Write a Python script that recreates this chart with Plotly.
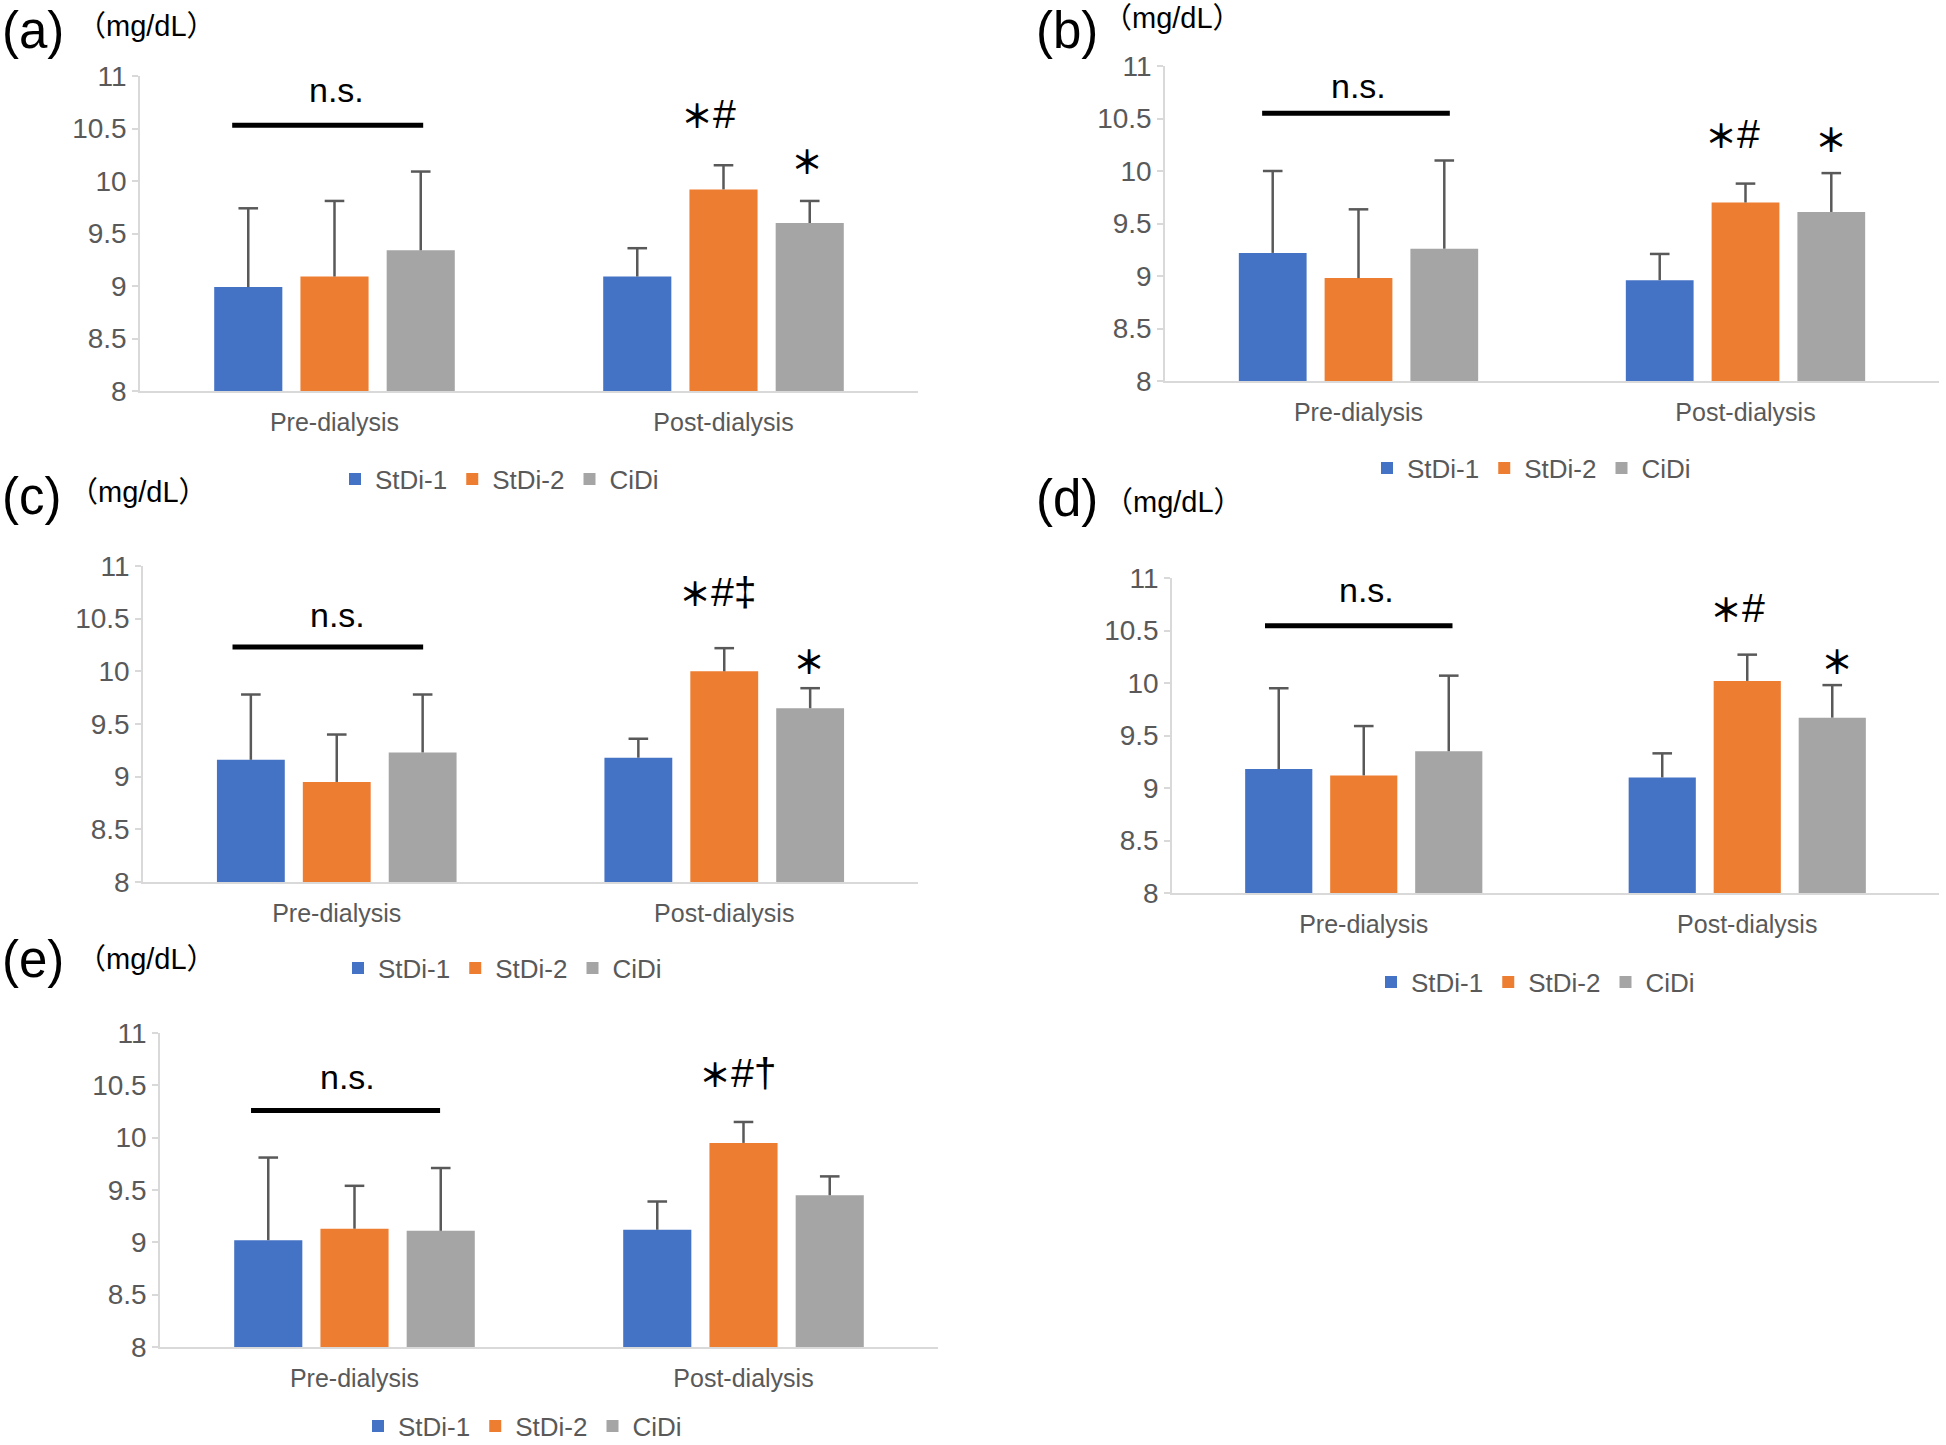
import plotly.graph_objects as go

W, H = 1946, 1445
FONT = "Liberation Sans, Arial, Noto Sans CJK JP, sans-serif"
TXT_GRAY = "#595959"
AXIS_GRAY = "#D9D9D9"
ERR_GRAY = "#595959"

# ---------------- data ----------------
categories = ["Pre-dialysis", "Post-dialysis"]
series_names = ["StDi-1", "StDi-2", "CiDi"]
series_colors = ["#4472C4", "#ED7D31", "#A5A5A5"]
y_tickvals = [8, 8.5, 9, 9.5, 10, 10.5, 11]
y_ticktext = ["8", "8.5", "9", "9.5", "10", "10.5", "11"]
panel_labels = ["(a)", "(b)", "(c)", "(d)", "(e)"]
unit_label = "（mg/dL）"
ns_label = "n.s."

# (a)
a_stdi1 = [8.99, 9.09]
a_stdi1_sd = [0.75, 0.27]
a_stdi2 = [9.09, 9.92]
a_stdi2_sd = [0.72, 0.23]
a_cidi = [9.34, 9.60]
a_cidi_sd = [0.75, 0.21]
a_marks = ["＊#", "＊"]

# (b)
b_stdi1 = [9.22, 8.96]
b_stdi1_sd = [0.78, 0.25]
b_stdi2 = [8.98, 9.70]
b_stdi2_sd = [0.655, 0.18]
b_cidi = [9.26, 9.61]
b_cidi_sd = [0.84, 0.37]
b_marks = ["＊#", "＊"]

# (c)
c_stdi1 = [9.16, 9.18]
c_stdi1_sd = [0.62, 0.18]
c_stdi2 = [8.95, 10.00]
c_stdi2_sd = [0.45, 0.22]
c_cidi = [9.23, 9.65]
c_cidi_sd = [0.55, 0.19]
c_marks = ["＊#‡", "＊"]

# (d)
d_stdi1 = [9.18, 9.10]
d_stdi1_sd = [0.77, 0.23]
d_stdi2 = [9.12, 10.02]
d_stdi2_sd = [0.47, 0.25]
d_cidi = [9.35, 9.67]
d_cidi_sd = [0.72, 0.31]
d_marks = ["＊#", "＊"]

# (e)
e_stdi1 = [9.02, 9.12]
e_stdi1_sd = [0.79, 0.27]
e_stdi2 = [9.13, 9.95]
e_stdi2_sd = [0.41, 0.20]
e_cidi = [9.11, 9.45]
e_cidi_sd = [0.60, 0.18]
e_marks = ["＊#†", ""]

# ---------------- layout geometry (pixels) ----------------
# lab = (left, top) of the panel letter box
panels = [
    dict(means=[a_stdi1, a_stdi2, a_cidi], sds=[a_stdi1_sd, a_stdi2_sd, a_cidi_sd], marks=a_marks,
         x0=140, x1=918, ytop=76, ybot=391, lab=(0, 0), unit=(146.5, 26), leg=(335, 479),
         nsl=(-0.263, 0.228, 10.53), nst=(0.006, 10.87), pm=(0.885, 10.64), cm=(1.215, 10.2)),
    dict(means=[b_stdi1, b_stdi2, b_cidi], sds=[b_stdi1_sd, b_stdi2_sd, b_cidi_sd], marks=b_marks,
         x0=1165, x1=1939, ytop=66, ybot=381, lab=(1034, 0), unit=(1172.5, 18), leg=(1367, 468),
         nsl=(-0.249, 0.236, 10.55), nst=(0.0, 10.81), pm=(0.889, 10.35), cm=(1.222, 10.31)),
    dict(means=[c_stdi1, c_stdi2, c_cidi], sds=[c_stdi1_sd, c_stdi2_sd, c_cidi_sd], marks=c_marks,
         x0=143, x1=918, ytop=566, ybot=882, lab=(0, 466), unit=(138.5, 491.5), leg=(338, 968),
         nsl=(-0.269, 0.223, 10.23), nst=(0.003, 10.535), pm=(0.878, 10.75), cm=(1.218, 10.11)),
    dict(means=[d_stdi1, d_stdi2, d_cidi], sds=[d_stdi1_sd, d_stdi2_sd, d_cidi_sd], marks=d_marks,
         x0=1172, x1=1939, ytop=578, ybot=893, lab=(1034, 468), unit=(1173, 502), leg=(1371, 982),
         nsl=(-0.2575, 0.2314, 10.545), nst=(0.007, 10.89), pm=(0.898, 10.71), cm=(1.235, 10.22)),
    dict(means=[e_stdi1, e_stdi2, e_cidi], sds=[e_stdi1_sd, e_stdi2_sd, e_cidi_sd], marks=e_marks,
         x0=160, x1=938, ytop=1033, ybot=1347, lab=(0, 929), unit=(146, 959), leg=(358, 1426),
         nsl=(-0.266, 0.22, 10.26), nst=(-0.017, 10.58), pm=(0.880, 10.62), cm=(1.222, 10.2)),
]

STAR_SPAN = '<span style="font-family:Noto Sans CJK JP;font-weight:bold;font-size:32px">＊</span>'


def styled(mark):
    return mark.replace("＊", STAR_SPAN)


def px(x):
    return x / W


def py(y):
    return 1 - y / H


fig = go.Figure()
annotations = []
shapes = []
layout_axes = {}

for i, p in enumerate(panels, start=1):
    sfx = "" if i == 1 else str(i)
    xa, ya = "x" + sfx, "y" + sfx
    legname = "legend" + sfx
    for j in range(3):
        fig.add_trace(go.Bar(
            x=categories, y=p["means"][j], name=series_names[j],
            marker=dict(color=series_colors[j], line=dict(width=0)),
            error_y=dict(type="data", symmetric=False, array=p["sds"][j],
                         arrayminus=[0] * len(categories), width=0,
                         thickness=2.5, color=ERR_GRAY),
            xaxis=xa, yaxis=ya, legend=legname, showlegend=True,
            hoverinfo="skip",
        ))
    for j in range(3):
        tops = [m + s for m, s in zip(p["means"][j], p["sds"][j])]
        fig.add_trace(go.Scatter(
            x=categories, y=tops, mode="markers",
            marker=dict(symbol="line-ew", size=14, color=ERR_GRAY,
                        line=dict(width=2.5, color=ERR_GRAY)),
            xaxis=xa, yaxis=ya, showlegend=False, hoverinfo="skip",
        ))

    layout_axes["xaxis" + sfx] = dict(
        domain=[px(p["x0"]), px(p["x1"])], anchor=ya, type="category",
        categoryorder="array", categoryarray=categories, range=[-0.5, 1.5],
        showline=True, linecolor=AXIS_GRAY, linewidth=2, ticks="",
        showgrid=False, zeroline=False, fixedrange=True, automargin=False,
        ticklabelstandoff=8,
        tickfont=dict(family=FONT, size=25, color=TXT_GRAY),
    )
    layout_axes["yaxis" + sfx] = dict(
        domain=[py(p["ybot"]), py(p["ytop"])], anchor=xa, range=[8, 11],
        tickmode="array", tickvals=y_tickvals, ticktext=y_ticktext,
        showline=True, linecolor=AXIS_GRAY, linewidth=1.5,
        ticks="outside", ticklen=6, tickwidth=1.5, tickcolor=AXIS_GRAY,
        showgrid=False, zeroline=False, fixedrange=True, automargin=False,
        tickfont=dict(family=FONT, size=28, color=TXT_GRAY),
    )
    layout_axes[legname] = dict(
        orientation="h", x=px(p["leg"][0]), y=py(p["leg"][1]),
        xanchor="left", yanchor="middle", bgcolor="rgba(0,0,0,0)",
        font=dict(family=FONT, size=26, color=TXT_GRAY),
        itemwidth=30, traceorder="normal", itemclick=False, itemdoubleclick=False,
    )

    # panel label and unit
    annotations.append(dict(
        text=panel_labels[i - 1], xref="paper", yref="paper",
        x=px(p["lab"][0]), y=py(p["lab"][1]), xanchor="left", yanchor="top",
        showarrow=False, font=dict(family=FONT, size=51, color="black"),
    ))
    annotations.append(dict(
        text=unit_label, xref="paper", yref="paper",
        x=px(p["unit"][0]), y=py(p["unit"][1]), xanchor="center", yanchor="middle",
        showarrow=False, font=dict(family=FONT, size=29, color="black"),
    ))
    # n.s. bar and label
    shapes.append(dict(
        type="line", xref=xa, yref=ya, x0=p["nsl"][0], x1=p["nsl"][1],
        y0=p["nsl"][2], y1=p["nsl"][2], line=dict(color="black", width=5),
    ))
    annotations.append(dict(
        text=ns_label, xref=xa, yref=ya, x=p["nst"][0], y=p["nst"][1],
        xanchor="center", yanchor="middle", showarrow=False,
        font=dict(family=FONT, size=34, color="black"),
    ))
    # significance marks
    annotations.append(dict(
        text=styled(p["marks"][0]), xref=xa, yref=ya, x=p["pm"][0], y=p["pm"][1],
        xanchor="left", yanchor="middle", showarrow=False,
        font=dict(family=FONT, size=41, color="black"),
    ))
    if p["marks"][1]:
        annotations.append(dict(
            text=styled(p["marks"][1]), xref=xa, yref=ya, x=p["cm"][0], y=p["cm"][1],
            xanchor="center", yanchor="middle", showarrow=False,
            font=dict(family=FONT, size=41, color="black"),
        ))

fig.update_layout(
    width=W, height=H, margin=dict(l=0, r=0, t=0, b=0, autoexpand=False),
    paper_bgcolor="white", plot_bgcolor="rgba(0,0,0,0)",
    barmode="group", bargap=0.335, bargroupgap=0.21,
    scattermode="group", scattergap=0.335,
    font=dict(family=FONT, color=TXT_GRAY),
    annotations=annotations, shapes=shapes,
    **layout_axes,
)

fig.write_html(
    "out.html",
    config={"displayModeBar": False},
    post_script="document.body.style.margin='0';document.body.style.overflow='hidden';",
)
